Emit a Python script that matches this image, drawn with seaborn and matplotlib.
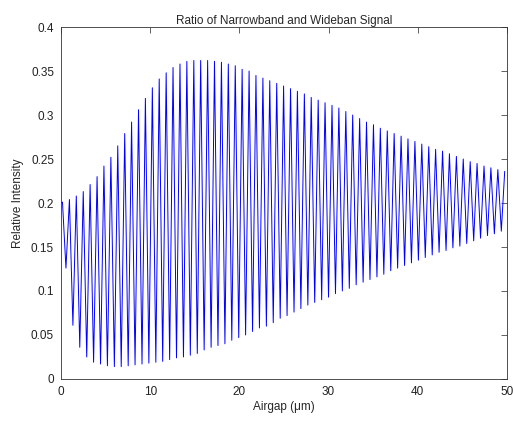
import pandas as pd
import matplotlib
matplotlib.use("Agg")
import matplotlib.pyplot as plt
import seaborn as sns

# fringe maxima
peak_x = [0.16, 0.94, 1.71, 2.49, 3.26, 4.04, 4.81, 5.59, 6.36, 7.14, 7.91, 8.69,
          9.46, 10.24, 11.01, 11.79, 12.56, 13.34, 14.11, 14.89, 15.66, 16.44, 17.21,
          17.99, 18.76, 19.54, 20.31, 21.09, 21.86, 22.64, 23.41, 24.19, 24.96, 25.74,
          26.51, 27.29, 28.06, 28.84, 29.61, 30.39, 31.16, 31.94, 32.71, 33.49, 34.26,
          35.04, 35.81, 36.59, 37.36, 38.14, 38.91, 39.69, 40.46, 41.24, 42.01, 42.79,
          43.56, 44.34, 45.11, 45.89, 46.66, 47.44, 48.21, 48.99, 49.76]
peak_y = [0.201, 0.204, 0.208, 0.213, 0.221, 0.230, 0.242, 0.252, 0.265, 0.279, 0.292,
          0.306, 0.319, 0.331, 0.341, 0.348, 0.354, 0.358, 0.361, 0.362, 0.362, 0.362,
          0.361, 0.360, 0.358, 0.356, 0.352, 0.350, 0.345, 0.342, 0.339, 0.336, 0.333,
          0.330, 0.327, 0.324, 0.320, 0.317, 0.314, 0.311, 0.308, 0.304, 0.300, 0.296,
          0.292, 0.289, 0.285, 0.282, 0.279, 0.276, 0.273, 0.270, 0.267, 0.264, 0.261,
          0.259, 0.256, 0.253, 0.250, 0.247, 0.245, 0.242, 0.240, 0.238, 0.236]

# fringe minima
dip_x = [0.55, 1.33, 2.10, 2.88, 3.65, 4.43, 5.20, 5.98, 6.75, 7.53, 8.30, 9.08, 9.85,
         10.63, 11.40, 12.18, 12.95, 13.73, 14.50, 15.28, 16.05, 16.83, 17.60, 18.38,
         19.15, 19.93, 20.70, 21.48, 22.25, 23.03, 23.80, 24.58, 25.35, 26.13, 26.90,
         27.68, 28.45, 29.23, 30.00, 30.78, 31.55, 32.33, 33.10, 33.88, 34.65, 35.43,
         36.20, 36.98, 37.75, 38.53, 39.30, 40.08, 40.85, 41.63, 42.40, 43.18, 43.95,
         44.73, 45.50, 46.28, 47.05, 47.83, 48.60, 49.38]
dip_y = [0.126, 0.061, 0.036, 0.025, 0.019, 0.017, 0.015, 0.014, 0.014, 0.015, 0.016,
         0.017, 0.018, 0.019, 0.020, 0.022, 0.024, 0.025, 0.027, 0.029, 0.033, 0.036,
         0.038, 0.040, 0.044, 0.047, 0.050, 0.054, 0.058, 0.060, 0.064, 0.069, 0.072,
         0.076, 0.080, 0.084, 0.087, 0.090, 0.093, 0.097, 0.100, 0.103, 0.107, 0.110,
         0.113, 0.116, 0.119, 0.123, 0.126, 0.129, 0.132, 0.135, 0.138, 0.141, 0.144,
         0.146, 0.149, 0.151, 0.154, 0.157, 0.160, 0.163, 0.165, 0.168]

start_x = [0.0]
start_y = [0.200]

x_ticks = [0, 10, 20, 30, 40, 50]
y_ticks = [0, 0.05, 0.1, 0.15, 0.2, 0.25, 0.3, 0.35, 0.4]
y_tick_labels = ["0", "0.05", "0.1", "0.15", "0.2", "0.25", "0.3", "0.35", "0.4"]

df = pd.DataFrame({
    "airgap": start_x + peak_x + dip_x,
    "ratio": start_y + peak_y + dip_y,
}).sort_values("airgap")

sns.set_style("white")
plt.rcParams["font.family"] = ["Liberation Sans", "DejaVu Sans"]
plt.rcParams["font.size"] = 8

fig = plt.figure(figsize=(5.13, 4.21), dpi=100)
ax = fig.add_axes([0.119, 0.0998, 0.869, 0.836])

sns.lineplot(data=df, x="airgap", y="ratio", color="blue", linewidth=0.7,
             estimator=None, sort=True, ax=ax)

ax.set_xlim(0, 50)
ax.set_ylim(0, 0.4)
ax.set_xticks(x_ticks)
ax.set_xticklabels([str(t) for t in x_ticks])
ax.set_yticks(y_ticks)
ax.set_yticklabels(y_tick_labels)
ax.tick_params(direction="in", length=4, width=0.5, top=True, right=True,
               labelsize=8.5, colors="#222222")
ax.tick_params(axis="y", pad=5)
ax.tick_params(axis="x", pad=5)
for s in ax.spines.values():
    s.set_color("#333333")
    s.set_linewidth(0.6)

ax.set_title("Ratio of Narrowband and Wideban Signal", fontsize=8.5, pad=2)
ax.set_xlabel("Airgap (μm)", fontsize=8.5, labelpad=2)
ax.set_ylabel("Relative Intensity", fontsize=8.5, labelpad=5)

fig.savefig("out.png", dpi=100, facecolor="white")
